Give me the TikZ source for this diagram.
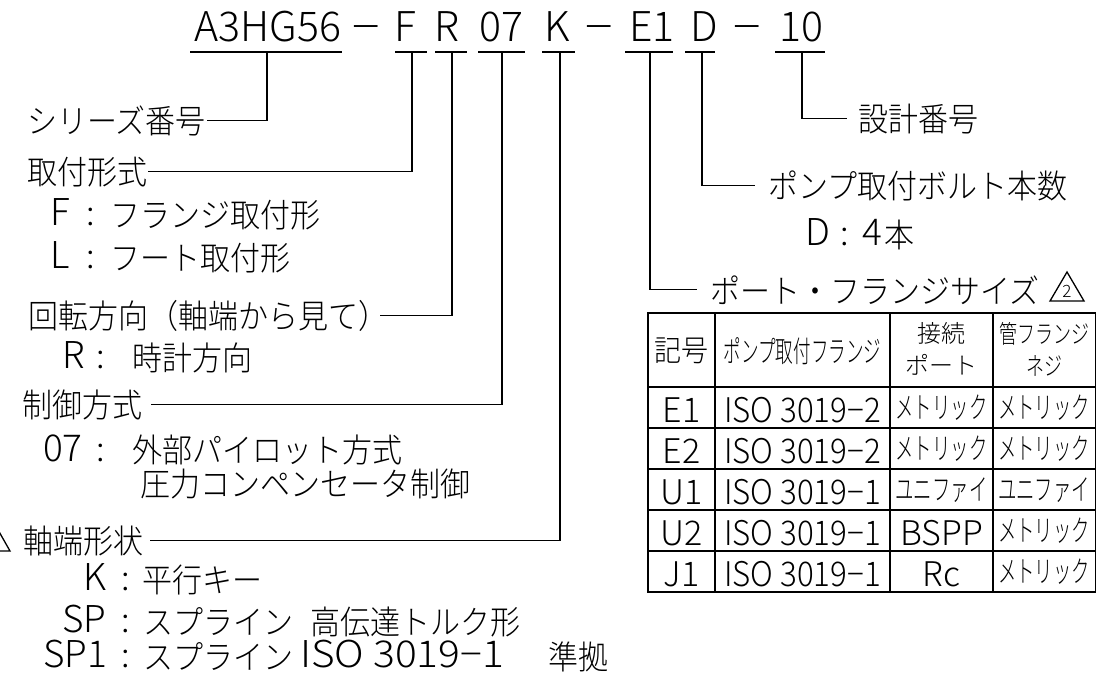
\documentclass[tikz,border=0pt]{standalone}
\usepackage{fontspec}
\IfFontExistsTF{Noto Sans CJK JP Light}{\newfontfamily\jpf{Noto Sans CJK JP Light}}{\newfontfamily\jpf{Noto Sans CJK JP}}
\newcommand\fsz[1]{\jpf\fontsize{#1}{#1}\selectfont}
\newcommand\tallj[1]{\scalebox{1}[1.1]{#1}}
\tikzset{
  conn/.style={line width=1.3pt},
  tbl/.style={line width=1.4pt},
  jlab/.style={anchor=base west, inner sep=0pt, font=\fsz{30}},
  code/.style={anchor=base west, inner sep=0pt, font=\fsz{37}},
  colon/.style={anchor=base, inner sep=0pt, font=\fsz{34}},
  ttl/.style={anchor=base, inner sep=0pt, font=\fsz{41}},
  tlat/.style={anchor=base, inner sep=0pt, font=\fsz{34}},
  tjp/.style={anchor=center, inner sep=0pt, font=\fsz{27}},
  thd/.style={anchor=center, inner sep=0pt, align=center, font=\jpf\fontsize{24}{32}\selectfont},
}
\begin{document}
\begin{tikzpicture}[x=1pt,y=-1pt]
\useasboundingbox (0,0) rectangle (1097,677);
% ---------- title ----------
\node[ttl] (tA) at (268,42) {A3HG56};
\node[ttl] (m1) at (366,42) {\scalebox{1.25}[1]{−}};
\node[ttl] (tF) at (405,42) {F};
\node[ttl] (tR) at (447,42) {R};
\node[ttl] (t07) at (501,42) {07};
\node[ttl] (tK) at (557,42) {K};
\node[ttl] (m2) at (599,42) {\scalebox{1.25}[1]{−}};
\node[ttl] (tE) at (652,42) {E1};
\node[ttl] (tD) at (704,42) {D};
\node[ttl] (m3) at (747,42) {\scalebox{1.25}[1]{−}};
\node[ttl] (t10) at (801,42) {10};
% underline coordinates
\coordinate (a1) at (190,52); \coordinate (a2) at (342,52); \coordinate (am) at (267,52);
\coordinate (f1) at (395,52); \coordinate (f2) at (427,52); \coordinate (fm) at (412,52);
\coordinate (r1) at (435,52); \coordinate (r2) at (467,52); \coordinate (rm) at (452,52);
\coordinate (o1) at (478,52); \coordinate (o2) at (525,52); \coordinate (om) at (502,52);
\coordinate (k1) at (542,52); \coordinate (k2) at (575,52); \coordinate (km) at (560,52);
\coordinate (e1) at (625,52); \coordinate (e2) at (673,52); \coordinate (em) at (650,52);
\coordinate (d1) at (685,52); \coordinate (d2) at (715,52); \coordinate (dm) at (702,52);
\coordinate (n1) at (775,52); \coordinate (n2) at (825,52); \coordinate (nm) at (802,52);
\foreach \p in {a,f,r,o,k,e,d,n} \draw[conn] (\p1) -- (\p2);
% ---------- left labels ----------
\node[jlab] (ser) at (27,133) {\tallj{シリーズ番号}};
\node[jlab] (mnt) at (27,184) {\tallj{取付形式}};
\node[code] (fF) at (50,225) {F};
\node[colon] (fFc) at (91,225) {:};
\node[jlab] (fFt) at (110,227) {\tallj{フランジ取付形}};
\node[code] (fL) at (50,268) {L};
\node[colon] (fLc) at (91,268) {:};
\node[jlab] (fLt) at (110,270) {\tallj{フート取付形}};
\node[jlab] (rot) at (28,328) {\tallj{回転方向（軸端から見て）}};
\node[code] (rR) at (62,368) {R};
\node[colon] (rRc) at (101,368) {:};
\node[jlab] (rRt) at (132,370) {\tallj{時計方向}};
\node[jlab] (ctl) at (22,417) {\tallj{制御方式}};
\node[code] (c07) at (43,461) {07};
\node[colon] (c07c) at (101,461) {:};
\node[jlab] (c07t) at (132,462) {\tallj{外部パイロット方式}};
\node[jlab] (c07u) at (140,496) {\tallj{圧力コンペンセータ制御}};
\node[jlab] (shf) at (23,553) {\tallj{軸端形状}};
\node[code] (sK) at (83,590) {K};
\node[colon] (sKc) at (126,590) {:};
\node[jlab] (sKt) at (142,592) {\tallj{平行キー}};
\node[code] (sS) at (62,632) {SP};
\node[colon] (sSc) at (126,632) {:};
\node[jlab] (sSt) at (143,634) {\tallj{スプライン}};
\node[jlab] (sSu) at (310,634) {\tallj{高伝達トルク形}};
\node[code] (sT) at (43,667) {SP1};
\node[colon] (sTc) at (126,667) {:};
\node[jlab] (sTt) at (143,669) {\tallj{スプライン}};
\node[code] (sTi) at (300,667) {\scalebox{1.1}[1]{ISO 3019−1}};
\node[jlab] (sTu) at (548,669) {\tallj{準拠}};
\begin{scope}
\clip (0,0) rectangle (1097,677);
\draw[conn] (-24,551) -- (-7,521) -- (10,551) -- cycle;
\end{scope}
% ---------- right labels ----------
\node[jlab] (des) at (858,131) {\tallj{設計番号}};
\node[jlab] (blt) at (768,198) {\tallj{ポンプ取付ボルト本数}};
\node[code] (bD) at (805,245) {D};
\node[colon] (bDc) at (845,245) {:};
\node[code] (bD4) at (862,245) {4};
\node[jlab] (bDt) at (884,247) {\tallj{本}};
\node[jlab] (prt) at (710,303) {\tallj{ポート・フランジサイズ}};
\coordinate (tr1) at (1050,301); \coordinate (tr2) at (1067,272); \coordinate (tr3) at (1084,301);
\draw[conn] (tr1) -- (tr2) -- (tr3) -- cycle;
\node[inner sep=0pt, font=\fsz{17}] (rev) at (1067,291) {2};
% ---------- connectors ----------
\draw[conn] (am) |- ([xshift=1pt]ser.east);
\draw[conn] (fm) |- ([xshift=1pt]mnt.east);
\draw[conn] (rm) |- ([xshift=-8pt]rot.east);
\draw[conn] (om) |- ([xshift=9pt]ctl.east);
\draw[conn] (km) |- ([xshift=7pt]shf.east);
\draw[conn] (em) |- ([xshift=-13pt]prt.west);
\draw[conn] (dm) |- ([xshift=-13pt]blt.west);
\draw[conn] (nm) |- ([xshift=-11pt]des.west);
% ---------- table ----------
\draw[tbl] (648,313) rectangle (1095.5,592);
\foreach \y in {387,428,469,510,551} \draw[tbl] (648,\y) -- (1095.5,\y);
\foreach \x in {715,890,993} \draw[tbl] (\x,313) -- (\x,592);
\node[tjp] (h1) at (681.5,351) {\tallj{記号}};
\node[tjp] (h2) at (802.5,351) {\scalebox{0.65}[1.1]{ポンプ取付フランジ}};
\node[thd] (h3) at (941.5,349) {接続\\ポート};
\node[thd] (h4) at (1044,349) {\scalebox{0.75}[1.05]{管フランジ}\\\scalebox{0.75}[1.05]{ネジ}};
% rows
\node[tlat] (c11) at (681.5,422) {E1};
\node[tlat] (c12) at (802.5,422) {\scalebox{0.92}[1]{ISO 3019−2}};
\node[tjp] (c13) at (941.5,408) {\scalebox{0.68}[1.1]{メトリック}};
\node[tjp] (c14) at (1044,408) {\scalebox{0.68}[1.1]{メトリック}};
\node[tlat] (c21) at (681.5,463) {E2};
\node[tlat] (c22) at (802.5,463) {\scalebox{0.92}[1]{ISO 3019−2}};
\node[tjp] (c23) at (941.5,449) {\scalebox{0.68}[1.1]{メトリック}};
\node[tjp] (c24) at (1044,449) {\scalebox{0.68}[1.1]{メトリック}};
\node[tlat] (c31) at (681.5,504) {U1};
\node[tlat] (c32) at (802.5,504) {\scalebox{0.92}[1]{ISO 3019−1}};
\node[tjp] (c33) at (941.5,490) {\scalebox{0.68}[1.1]{ユニファイ}};
\node[tjp] (c34) at (1044,490) {\scalebox{0.68}[1.1]{ユニファイ}};
\node[tlat] (c41) at (681.5,545) {U2};
\node[tlat] (c42) at (802.5,545) {\scalebox{0.92}[1]{ISO 3019−1}};
\node[tlat] (c43) at (941.5,545) {BSPP};
\node[tjp] (c44) at (1044,531) {\scalebox{0.68}[1.1]{メトリック}};
\node[tlat] (c51) at (681.5,586) {J1};
\node[tlat] (c52) at (802.5,586) {\scalebox{0.92}[1]{ISO 3019−1}};
\node[tlat] (c53) at (941.5,586) {Rc};
\node[tjp] (c54) at (1044,572) {\scalebox{0.68}[1.1]{メトリック}};
\end{tikzpicture}
\end{document}
